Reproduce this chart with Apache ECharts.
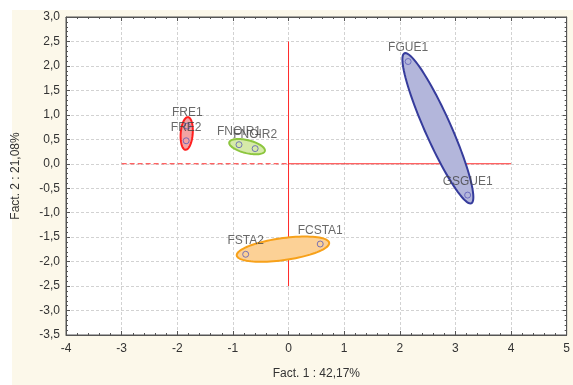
<!DOCTYPE html>
<html><head><meta charset="utf-8">
<script src="https://cdn.jsdelivr.net/npm/echarts@6/dist/echarts.min.js"></script>
<style>html,body{margin:0;padding:0;background:#fff}#c{width:573px;height:385px}</style>
</head><body><div id="c"></div>
<script>
// ---- data ----
const names = ['FRE1','FRE2','FNOIR1','FNOIR2','FGUE1','GSGUE1','FSTA2','FCSTA1'];
const fact1 = [-1.82,-1.84,-0.89,-0.60,2.15,3.22,-0.77,0.57];
const fact2 = [0.77,0.47,0.39,0.31,2.09,-0.64,-1.85,-1.64];
const groupMembers = [[0,1],[2,3],[4,5],[6,7]];
const groupStroke = ['#ff1e1e','#8dc63f','#363c9c','#f7a11a'];
const groupFill = ['#f3a3a3','#d6eaa9','#b3b6db','#fcd196'];
const groupPad = [9,10,9,9];      // px extension beyond points
const groupMinor = [6,6.5,13,11]; // px semi-minor axis
const xTicks = {min:-4,max:5,interval:1};
const yTicks = {min:-3.5,max:3,interval:0.5};
const refDashed = [[-3,0],[0,0]];
const refSolidH = [[0,0],[4,0]];
const refSolidV = [[0,2.5],[0,-2.5]];

const chart = echarts.init(document.getElementById('c'));
const font = 'Arial, "Liberation Sans", sans-serif';
const fmt = v => v.toFixed(1).replace('.', ',');
const axisCol = '#555';
const gridL = 66, gridT = 17, gridR = 4, gridB = 47;

chart.setOption({
  animation:false,
  graphic:[{type:'rect',z:-10,shape:{x:12,y:10,width:561,height:375},style:{fill:'#fcf8ea'}}],
  grid:{left:gridL,top:gridT,right:gridR,bottom:gridB,show:true,backgroundColor:'#fff',borderColor:axisCol,borderWidth:1},
  xAxis:[{type:'value',min:xTicks.min,max:xTicks.max,interval:xTicks.interval,
    axisLine:{show:true,onZero:false,lineStyle:{color:axisCol}},
    axisTick:{show:true,inside:true,length:4,lineStyle:{color:axisCol}},
    minorTick:{show:true,splitNumber:5,length:2,lineStyle:{color:axisCol}},
    splitLine:{show:true,lineStyle:{color:'#d2d2d2',type:[3,2],width:1}},
    axisLabel:{color:'#333',fontFamily:font,fontSize:12,margin:8},
    name:'Fact. 1 : 42,17%',nameLocation:'middle',nameGap:33,
    nameTextStyle:{color:'#333',fontFamily:font,fontSize:12}},
   {type:'value',position:'top',min:xTicks.min,max:xTicks.max,interval:xTicks.interval,
    axisLine:{show:true,onZero:false,lineStyle:{color:axisCol}},
    axisTick:{show:true,inside:true,length:4,lineStyle:{color:axisCol}},
    minorTick:{show:true,splitNumber:5,length:2,lineStyle:{color:axisCol}},
    splitLine:{show:false},axisLabel:{show:false}}],
  yAxis:[{type:'value',min:yTicks.min,max:yTicks.max,interval:yTicks.interval,
    axisLine:{show:true,onZero:false,lineStyle:{color:axisCol}},
    axisTick:{show:true,inside:true,length:4,lineStyle:{color:axisCol}},
    minorTick:{show:true,splitNumber:5,length:2,lineStyle:{color:axisCol}},
    splitLine:{show:true,lineStyle:{color:'#d2d2d2',type:[3,2],width:1}},
    axisLabel:{color:'#333',fontFamily:font,fontSize:12,formatter:fmt,margin:6},
    name:'Fact. 2 : 21,08%',nameLocation:'middle',nameGap:44,nameRotate:90,
    nameTextStyle:{color:'#333',fontFamily:font,fontSize:12}},
   {type:'value',position:'right',min:yTicks.min,max:yTicks.max,interval:yTicks.interval,
    axisLine:{show:true,onZero:false,lineStyle:{color:axisCol}},
    axisTick:{show:true,inside:true,length:4,lineStyle:{color:axisCol}},
    minorTick:{show:true,splitNumber:5,length:2,lineStyle:{color:axisCol}},
    splitLine:{show:false},axisLabel:{show:false}}],
  series:[
    {type:'line',silent:true,symbol:'none',data:refDashed,lineStyle:{color:'#ff2a2a',width:1,type:[5,3]},z:1},
    {type:'line',silent:true,symbol:'none',data:refSolidH,lineStyle:{color:'#ff2a2a',width:1},z:1},
    {type:'line',silent:true,symbol:'none',data:refSolidV,lineStyle:{color:'#ff2a2a',width:1},z:1},
    {type:'custom',z:2,
     data:groupMembers.map((m,i)=>[(fact1[m[0]]+fact1[m[1]])/2,(fact2[m[0]]+fact2[m[1]])/2,i]),
     renderItem:function(params,api){
       const gi = api.value(2);
       const m = groupMembers[gi];
       const p1 = api.coord([fact1[m[0]],fact2[m[0]]]);
       const p2 = api.coord([fact1[m[1]],fact2[m[1]]]);
       const cx=(p1[0]+p2[0])/2, cy=(p1[1]+p2[1])/2;
       const dx=p2[0]-p1[0], dy=p2[1]-p1[1];
       const d=Math.sqrt(dx*dx+dy*dy);
       const ang=Math.atan2(dy,dx);
       const a=d/2+groupPad[gi], b=groupMinor[gi];
       const pts=[];
       for(let k=0;k<90;k++){
         const t=k/90*Math.PI*2;
         const ex=a*Math.cos(t), ey=b*Math.sin(t);
         pts.push([cx+ex*Math.cos(ang)-ey*Math.sin(ang), cy+ex*Math.sin(ang)+ey*Math.cos(ang)]);
       }
       return {type:'polygon',shape:{points:pts},style:{fill:groupFill[gi],stroke:groupStroke[gi],lineWidth:2}};
     }},
    {type:'scatter',z:5,symbol:'circle',symbolSize:6,
     data:names.map((n,i)=>({name:n,value:[fact1[i],fact2[i]]})),
     itemStyle:{color:'rgba(255,255,255,0)',borderColor:'#5a5ab8',borderWidth:1},
     label:{show:true,position:'top',distance:4,formatter:'{b}',color:'#444',fontFamily:font,fontSize:12}}
  ]
});
</script></body></html>
